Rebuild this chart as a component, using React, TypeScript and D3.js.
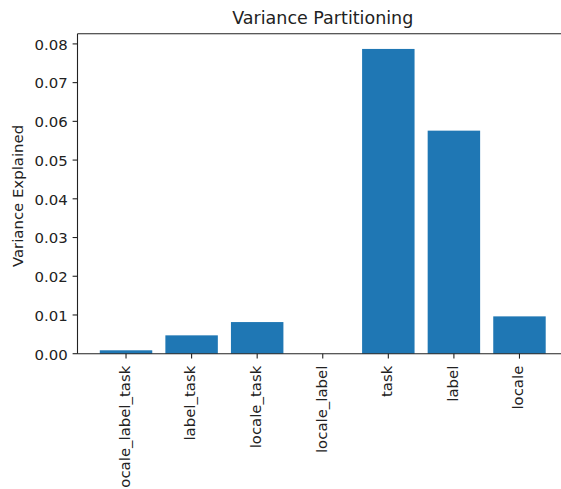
import React from "react";
import * as d3 from "d3";

const categories = ["locale_label_task", "label_task", "locale_task", "locale_label", "task", "label", "locale"];
const values = [0.00088, 0.00474, 0.00817, 0.0, 0.0787, 0.0576, 0.00964];
const yTicks = [0, 0.01, 0.02, 0.03, 0.04, 0.05, 0.06, 0.07, 0.08];

const W = 561;
const H = 489;
const left = 77.5;
const right = 568;
const top = 33.7;
const bottom = 353.7;
const font = "'DejaVu Sans', sans-serif";
const fs = 14.9;

export default function App() {
  const n = categories.length;
  const x = d3.scaleLinear().domain([-0.4 - 0.34, n - 1 + 0.4 + 0.34]).range([left, right]);
  const yMax = (d3.max(values) as number) * 1.05;
  const y = d3.scaleLinear().domain([0, yMax]).range([bottom, top]);
  const bw = x(0.8) - x(0);
  const axisColor = "#222";
  const textColor = "#222";

  return (
    <div style={{ position: "fixed", left: 0, top: 0, width: W, height: H, background: "#fff" }}>
      <svg width={W} height={H} style={{ display: "block" }} fontFamily={font}>
        <rect x={0} y={0} width={W} height={H} fill="#fff" />
        {values.map((v, i) => (
          <rect
            key={categories[i]}
            x={x(i) - bw / 2}
            y={y(v)}
            width={bw}
            height={Math.max(0, y(0) - y(v))}
            fill="#1f77b4"
          />
        ))}
        {/* spines */}
        <line x1={left} x2={left} y1={top} y2={bottom} stroke={axisColor} strokeWidth={1.1} />
        <line x1={right} x2={right} y1={top} y2={bottom} stroke={axisColor} strokeWidth={1.1} />
        <line x1={left} x2={right} y1={top} y2={top} stroke={axisColor} strokeWidth={1.1} />
        <line x1={left} x2={right} y1={bottom} y2={bottom} stroke={axisColor} strokeWidth={1.1} />
        {/* y ticks */}
        {yTicks.map((t) => (
          <g key={t}>
            <line x1={left - 4.9} x2={left} y1={y(t)} y2={y(t)} stroke={axisColor} strokeWidth={1.1} />
            <text x={left - 9.8} y={y(t) + 5.8} textAnchor="end" fontSize={fs} fill={textColor}>
              {t.toFixed(2)}
            </text>
          </g>
        ))}
        {/* x ticks */}
        {categories.map((c, i) => (
          <g key={c}>
            <line x1={x(i)} x2={x(i)} y1={bottom} y2={bottom + 4.9} stroke={axisColor} strokeWidth={1.1} />
            <text
              transform={`translate(${x(i)},${bottom + 12}) rotate(-90)`}
              textAnchor="end"
              dy="0.26em"
              fontSize={fs}
              fill={textColor}
            >
              {c}
            </text>
          </g>
        ))}
        {/* y label */}
        <text
          transform={`translate(22.5,196) rotate(-90)`}
          textAnchor="middle"
          fontSize={fs}
          fill={textColor}
        >
          Variance Explained
        </text>
        {/* title */}
        <text x={(left + right) / 2} y={23.5} textAnchor="middle" fontSize={17.5} fill={textColor}>
          Variance Partitioning
        </text>
      </svg>
    </div>
  );
}
